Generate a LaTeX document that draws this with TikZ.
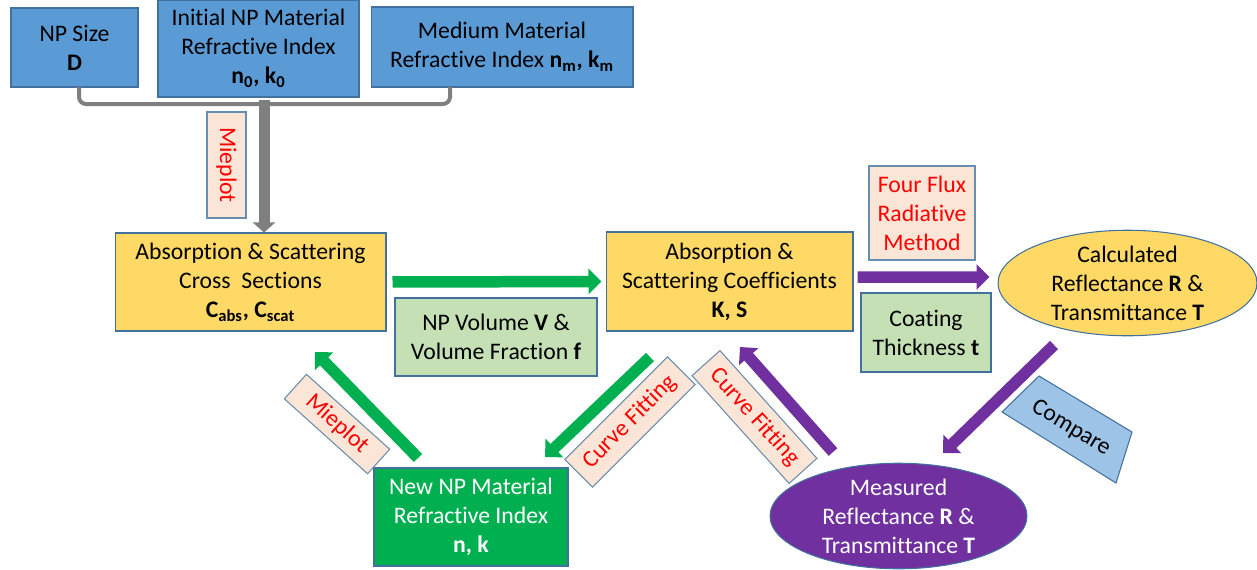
\documentclass[tikz,border=0pt]{standalone}
\usepackage{fontspec}
\setmainfont{Carlito}[Ligatures=NoCommon]
\usepackage{tikz}
\usetikzlibrary{arrows.meta,shapes.geometric}

\definecolor{boxblue}{HTML}{5B9BD5}
\definecolor{edgeblue}{HTML}{41719C}
\definecolor{boxyellow}{HTML}{FFD966}
\definecolor{boxgreen}{HTML}{C5E0B4}
\definecolor{tagpeach}{HTML}{FBE5D6}
\definecolor{darkgreen}{HTML}{00B050}
\definecolor{darkpurple}{HTML}{7030A0}
\definecolor{lightblue}{HTML}{9DC3E6}
\definecolor{linegray}{HTML}{7F7F7F}

\begin{document}
\begin{tikzpicture}[x=0.02cm, y=-0.02cm,
  every node/.style={font=\fontsize{13.5}{16.5}\selectfont, align=center, inner sep=2pt},
  box/.style={rectangle, draw=edgeblue, line width=0.6pt},
  oval/.style={ellipse, draw=edgeblue, line width=0.6pt, inner sep=0pt},
  tag/.style={rectangle, draw=edgeblue!80, fill=tagpeach, text=red, line width=0.6pt, inner sep=1pt},
  fatarrow/.style={line width=0.23cm, -{Triangle[length=0.26cm,width=0.5cm]}}]
\useasboundingbox (0,0) rectangle (1257,569);

% Input parameters
\node[box, fill=boxblue, minimum width=2.54cm, minimum height=1.58cm] (size) at (74.5,47.5) {NP Size\\\textbf{D}};
\node[box, fill=boxblue, minimum width=4.02cm, minimum height=1.94cm] (initial) at (258.5,48.5) {Initial NP Material\\Refractive Index\\\textbf{n\textsubscript{0}, k\textsubscript{0}}};
\node[box, fill=boxblue, minimum width=5.24cm, minimum height=1.6cm] (medium) at (502,47) {Medium Material\\Refractive Index \textbf{n\textsubscript{m}, k\textsubscript{m}}};

% Bracket joining the inputs
\coordinate (bl) at (79,87);
\coordinate (br) at (450,87);
\coordinate (hub) at (264,104);
\draw[linegray, line width=0.08cm, rounded corners=4pt] (bl) |- (hub) -| (br);

% Cross sections
\node[box, fill=boxyellow, minimum width=5.42cm, minimum height=1.96cm] (cross) at (250.5,282) {Absorption \& Scattering\\Cross~~Sections\\\textbf{C\textsubscript{abs}, C\textsubscript{scat}}};
\draw[linegray, line width=0.22cm, -{Triangle[length=0.2cm,width=0.44cm]}] ([yshift=0.08cm]hub) -- (hub |- cross.north);
\node[tag, rotate=-90, minimum width=2.12cm, minimum height=0.78cm] (mie1) at (226.5,165) {Mieplot};

% Coefficients
\node[box, fill=boxyellow, minimum width=4.94cm, minimum height=1.98cm] (coef) at (729.5,281.5) {Absorption \&\\Scattering Coefficients\\\textbf{K, S}};
\draw[fatarrow, darkgreen, shorten <=0.12cm, shorten >=0.08cm] (cross.east) -- (coef.west);
\node[box, fill=boxgreen, minimum width=4.04cm, minimum height=1.56cm] (volume) at (496,337) {NP Volume \textbf{V} \&\\Volume Fraction \textbf{f}};

% Four flux step
\node[oval, fill=boxyellow, minimum width=5.18cm, minimum height=1.96cm] (calc) at (1127.5,283) {Calculated\\Reflectance \textbf{R} \&\\Transmittance \textbf{T}};
\draw[fatarrow, darkpurple, shorten <=0.08cm, shorten >=0.16cm] ([yshift=0.09cm]coef.east) -- ([yshift=0.12cm]calc.west);
\node[tag, minimum width=2.12cm, minimum height=1.88cm] (flux) at (922,213) {Four Flux\\Radiative\\Method};
\node[box, fill=boxgreen, minimum width=2.6cm, minimum height=1.58cm] (coat) at (926,332.5) {Coating\\Thickness \textbf{t}};

% Measurement and feedback loop
\node[oval, fill=darkpurple, text=white, minimum width=5.14cm, minimum height=1.96cm] (meas) at (898.5,516) {Measured\\Reflectance \textbf{R} \&\\Transmittance \textbf{T}};
\node[box, fill=darkgreen, text=white, minimum width=3.88cm, minimum height=1.96cm] (newnp) at (471,517) {New NP Material\\Refractive Index\\\textbf{n, k}};

\coordinate (cmpA) at (1054,345);
\coordinate (cmpB) at (943,453);
\coordinate (fitA) at (833,452);
\coordinate (fitB) at (740,347);
\coordinate (invA) at (650,357);
\coordinate (invB) at (545,457);
\coordinate (mieA) at (418,458);
\coordinate (mieB) at (315,352);
\draw[fatarrow, darkpurple] (cmpA) -- (cmpB);
\draw[fatarrow, darkpurple] (fitA) -- (fitB);
\draw[fatarrow, darkgreen] (invA) -- (invB);
\draw[fatarrow, darkgreen] (mieA) -- (mieB);

% Arrow labels
\draw[edgeblue, fill=lightblue, line width=0.6pt] (1002,412) -- (1039,376) -- (1132,432) -- (1116,483) -- cycle;
\node[rotate=-31] (cmp) at (1071,428) {Compare};
\node[tag, rotate=-42, minimum width=2.24cm, minimum height=0.66cm] (mie2) at (337,424) {Mieplot};
\node[tag, rotate=45, minimum width=2.9cm, minimum height=0.78cm] (fit1) at (630,422) {Curve Fitting};
\node[tag, rotate=-48, minimum width=2.9cm, minimum height=0.75cm] (fit2) at (754.5,417) {Curve Fitting};
\end{tikzpicture}
\end{document}
